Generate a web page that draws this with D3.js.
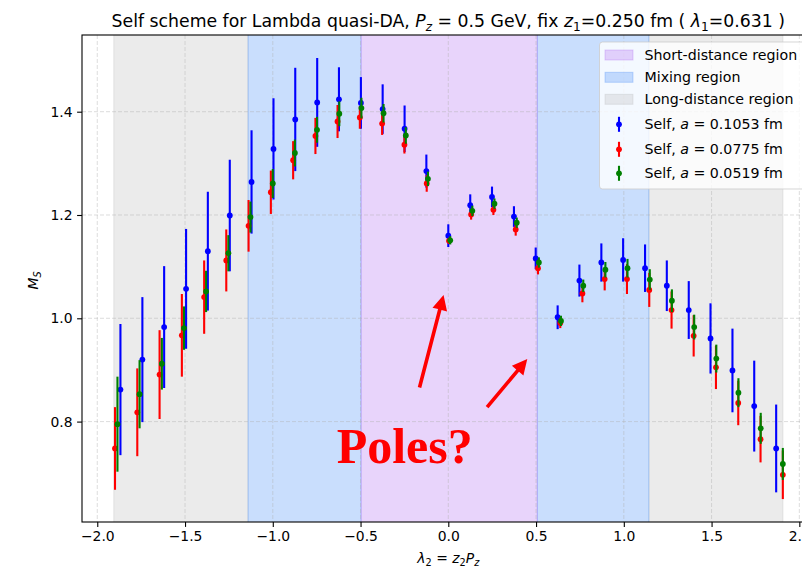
<!DOCTYPE html>
<html>
<head>
<meta charset="utf-8">
<script src="https://cdn.jsdelivr.net/npm/d3@7"></script>
<style>
  body { margin: 0; background: #fff; }
  svg { display: block; font-family: "DejaVu Sans", sans-serif; }
</style>
</head>
<body>
<svg id="chart" width="802" height="569"></svg>
<script>
// ---- data -------------------------------------------------------------
// lattice spacings of the three ensembles
const spacings = ["0.1053", "0.0775", "0.0519"];
const seriesColors = ["#0000ff", "#ff0000", "#008000"];

// a = 0.1053 fm
const lambdaA1 = [-1.868, -1.743, -1.619, -1.494, -1.370, -1.245, -1.121, -0.996, -0.872, -0.747,
                  -0.623, -0.498, -0.374, -0.249, -0.125, 0.000, 0.125, 0.249, 0.374, 0.498,
                  0.623, 0.747, 0.872, 0.996, 1.121, 1.245, 1.370, 1.494, 1.619, 1.743, 1.868];
const msA1 = [0.862, 0.920, 0.983, 1.057, 1.130, 1.199, 1.264, 1.328, 1.385, 1.418,
              1.424, 1.417, 1.405, 1.367, 1.285, 1.160, 1.219, 1.235, 1.197, 1.116,
              1.002, 1.073, 1.108, 1.113, 1.097, 1.063, 1.016, 0.961, 0.899, 0.830, 0.748];
const errA1 = [0.127, 0.121, 0.118, 0.116, 0.115, 0.108, 0.100, 0.098, 0.100, 0.086,
               0.062, 0.050, 0.048, 0.045, 0.032, 0.022, 0.021, 0.020, 0.020, 0.021,
               0.023, 0.031, 0.037, 0.042, 0.046, 0.049, 0.056, 0.068, 0.081, 0.088, 0.085];

// a = 0.0775 fm
const lambdaA2 = [-1.899, -1.772, -1.645, -1.518, -1.391, -1.265, -1.138, -1.011, -0.884, -0.757,
                  -0.631, -0.504, -0.377, -0.250, -0.123, 0.004, 0.130, 0.257, 0.384, 0.511,
                  0.638, 0.764, 0.891, 1.018, 1.145, 1.272, 1.398, 1.525, 1.652, 1.779, 1.906];
const msA2 = [0.748, 0.818, 0.891, 0.967, 1.041, 1.112, 1.179, 1.244, 1.306, 1.353,
              1.381, 1.389, 1.377, 1.336, 1.261, 1.150, 1.201, 1.210, 1.172, 1.097,
              0.991, 1.048, 1.076, 1.076, 1.055, 1.016, 0.966, 0.905, 0.836, 0.766, 0.697];
const errA2 = [0.080, 0.085, 0.086, 0.080, 0.071, 0.060, 0.050, 0.042, 0.037, 0.035,
               0.032, 0.022, 0.022, 0.017, 0.016, 0.006, 0.010, 0.010, 0.012, 0.012,
               0.010, 0.017, 0.022, 0.029, 0.033, 0.036, 0.040, 0.042, 0.043, 0.045, 0.047];

// a = 0.0519 fm
const lambdaA3 = [-1.885, -1.759, -1.632, -1.506, -1.380, -1.253, -1.127, -1.000, -0.874, -0.748,
                  -0.621, -0.495, -0.369, -0.242, -0.116, 0.011, 0.137, 0.263, 0.390, 0.516,
                  0.642, 0.769, 0.895, 1.021, 1.148, 1.274, 1.401, 1.527, 1.653, 1.780, 1.906];
const msA3 = [0.795, 0.853, 0.912, 0.981, 1.052, 1.126, 1.196, 1.261, 1.320, 1.365,
              1.396, 1.407, 1.397, 1.354, 1.270, 1.151, 1.208, 1.222, 1.185, 1.108,
              0.995, 1.063, 1.094, 1.097, 1.075, 1.034, 0.983, 0.922, 0.856, 0.787, 0.718];
const errA3 = [0.092, 0.066, 0.050, 0.042, 0.040, 0.035, 0.030, 0.028, 0.026, 0.025,
               0.024, 0.020, 0.018, 0.016, 0.014, 0.008, 0.010, 0.010, 0.010, 0.010,
               0.010, 0.012, 0.015, 0.018, 0.020, 0.022, 0.024, 0.027, 0.028, 0.030, 0.031];

// lambda ranges of the three regions
const regionNames = ["Short-distance region", "Mixing region", "Long-distance region"];
const shortSpans = [[-0.497, 0.507]];
const mixingSpans = [[-1.141, -0.497], [0.507, 1.143]];
const longSpans = [[-1.906, -1.141], [1.143, 1.907]];

const xTicks = [-2.0, -1.5, -1.0, -0.5, 0.0, 0.5, 1.0, 1.5, 2.0];
const yTicks = [0.8, 1.0, 1.2, 1.4];

// annotation: arrows (tail -> tip) and label, in data units
const arrowTails = [[-0.164, 0.866], [0.221, 0.828]];
const arrowTips = [[-0.027, 1.045], [0.450, 0.921]];
const polesLabel = "Poles?";
const polesAt = [-0.636, 0.719];

// ---- layout -----------------------------------------------------------
const W = 802, H = 569;
const plot = { left: 82, top: 35, right: 814.6, bottom: 522 };
const svg = d3.select("#chart");

const x = d3.scaleLinear().domain([-2.087, 2.087]).range([plot.left, plot.right]);
const y = d3.scaleLinear().domain([0.6056, 1.5485]).range([plot.bottom, plot.top]);

svg.append("defs").append("clipPath").attr("id", "axclip")
  .append("rect").attr("x", plot.left).attr("y", plot.top)
  .attr("width", plot.right - plot.left).attr("height", plot.bottom - plot.top);

const body = svg.append("g").attr("clip-path", "url(#axclip)");

// region shading
const regionStyles = [
  { color: "rgb(163,83,239)", spans: shortSpans },
  { color: "rgb(39,123,247)", spans: mixingSpans },
  { color: "rgb(175,175,175)", spans: longSpans }
];
// draw long first, then mixing, then short on top
[2, 1, 0].forEach(i => {
  const st = regionStyles[i];
  body.append("g").selectAll("rect").data(st.spans).join("rect")
    .attr("x", d => x(d[0])).attr("width", d => x(d[1]) - x(d[0]))
    .attr("y", plot.top - 5).attr("height", plot.bottom - plot.top + 10)
    .attr("fill", st.color).attr("fill-opacity", 0.25)
    .attr("stroke", st.color).attr("stroke-opacity", 0.25).attr("stroke-width", 1);
});

// grid
const grid = body.append("g").attr("stroke", "#b0b0b0").attr("stroke-opacity", 0.55)
  .attr("stroke-width", 0.8).attr("stroke-dasharray", "4,2");
grid.selectAll("line.gx").data(xTicks).join("line").attr("class", "gx")
  .attr("x1", d => x(d)).attr("x2", d => x(d)).attr("y1", plot.top).attr("y2", plot.bottom);
grid.selectAll("line.gy").data(yTicks).join("line").attr("class", "gy")
  .attr("y1", d => y(d)).attr("y2", d => y(d)).attr("x1", plot.left).attr("x2", plot.right);

// error-bar series
const series = [
  { lam: lambdaA1, ms: msA1, err: errA1 },
  { lam: lambdaA2, ms: msA2, err: errA2 },
  { lam: lambdaA3, ms: msA3, err: errA3 }
];
series.forEach((s, k) => {
  const pts = s.lam.map((l, i) => ({ l, v: s.ms[i], e: s.err[i] }));
  const g = body.append("g");
  g.selectAll("line").data(pts).join("line")
    .attr("x1", d => x(d.l)).attr("x2", d => x(d.l))
    .attr("y1", d => y(d.v - d.e)).attr("y2", d => y(d.v + d.e))
    .attr("stroke", seriesColors[k]).attr("stroke-width", 2.1);
  g.selectAll("circle").data(pts).join("circle")
    .attr("cx", d => x(d.l)).attr("cy", d => y(d.v)).attr("r", 2.9)
    .attr("fill", seriesColors[k]);
});

// arrows
function arrowPath(x0, y0, x1, y1) {
  const dx = x1 - x0, dy = y1 - y0, L = Math.hypot(dx, dy);
  const ux = dx / L, uy = dy / L, px = -uy, py = ux;
  const hl = 15, hw = 7.5, sw = 1.8;
  const bx = x1 - ux * hl, by = y1 - uy * hl;
  const p = [
    [x0 + px * sw, y0 + py * sw], [bx + px * sw, by + py * sw], [bx + px * hw, by + py * hw],
    [x1, y1], [bx - px * hw, by - py * hw], [bx - px * sw, by - py * sw], [x0 - px * sw, y0 - py * sw]
  ];
  return "M" + p.map(q => q.join(",")).join("L") + "Z";
}
body.append("g").selectAll("path").data(arrowTails).join("path")
  .attr("d", (d, i) => arrowPath(x(d[0]), y(d[1]), x(arrowTips[i][0]), y(arrowTips[i][1])))
  .attr("fill", "#ff0000");

body.append("text").attr("x", x(polesAt[0])).attr("y", y(polesAt[1]))
  .attr("font-family", "'Liberation Serif', 'DejaVu Serif', serif").attr("font-weight", "bold")
  .attr("font-size", 50).attr("fill", "#ff0000").text(polesLabel);

// spines
const spines = svg.append("g").attr("stroke", "#000").attr("stroke-width", 1.1).attr("fill", "none");
spines.append("rect").attr("x", plot.left).attr("y", plot.top)
  .attr("width", plot.right - plot.left).attr("height", plot.bottom - plot.top);

// axes
const fmt = d => d3.format(".1f")(d).replace("-", "\u2212");
const xAxis = svg.append("g").attr("transform", `translate(0,${plot.bottom})`)
  .call(d3.axisBottom(x).tickValues(xTicks).tickFormat(fmt).tickSize(4.9).tickPadding(4.5));
const yAxis = svg.append("g").attr("transform", `translate(${plot.left},0)`)
  .call(d3.axisLeft(y).tickValues(yTicks).tickFormat(fmt).tickSize(4.9).tickPadding(4.5));
[xAxis, yAxis].forEach(a => {
  a.select(".domain").remove();
  a.selectAll(".tick line").attr("stroke", "#000").attr("stroke-width", 1.1);
  a.selectAll(".tick text").attr("font-family", "DejaVu Sans").attr("font-size", 13.9).attr("fill", "#000");
});

// math-like text helper: parts [{t, it, sub}]
function mathText(sel, parts, size) {
  let off = 0;
  parts.forEach(p => {
    const ts = sel.append("tspan").text(p.t);
    if (p.it) ts.attr("font-style", "italic");
    const want = p.sub ? size * 0.22 : 0;
    if (want !== off) { ts.attr("dy", want - off); off = want; }
    if (p.sub) ts.attr("font-size", size * 0.7);
  });
}

// title
const title = svg.append("text").attr("x", (plot.left + plot.right) / 2).attr("y", 27)
  .attr("text-anchor", "middle").attr("font-size", 17.3).attr("fill", "#000");
mathText(title, [
  { t: "Self scheme for Lambda quasi-DA, " }, { t: "P", it: true }, { t: "z", it: true, sub: true },
  { t: " = 0.5 GeV, fix " }, { t: "z", it: true }, { t: "1", sub: true },
  { t: "=0.250 fm ( " }, { t: "\u03bb", it: true }, { t: "1", sub: true }, { t: "=0.631 )" }
], 17.3);

// x label
const xl = svg.append("text").attr("x", (plot.left + plot.right) / 2).attr("y", 563)
  .attr("text-anchor", "middle").attr("font-size", 13.9).attr("fill", "#000");
mathText(xl, [
  { t: "\u03bb", it: true }, { t: "2", sub: true }, { t: " = " }, { t: "z", it: true }, { t: "2", sub: true },
  { t: "P", it: true }, { t: "z", it: true, sub: true }
], 13.9);

// y label
const yl = svg.append("text").attr("transform", `translate(37.5,${(plot.top + plot.bottom) / 2 + 2}) rotate(-90)`)
  .attr("text-anchor", "middle").attr("font-size", 13.9).attr("fill", "#000");
mathText(yl, [{ t: "M", it: true }, { t: "S", it: true, sub: true }], 13.9);

// legend
const lg = svg.append("g");
lg.append("rect").attr("x", 599.5).attr("y", 42).attr("width", 208).attr("height", 147).attr("rx", 3)
  .attr("fill", "#fff").attr("fill-opacity", 0.8).attr("stroke", "#cccccc").attr("stroke-opacity", 0.8);
const rowY = [55, 77.3, 99.3, 124.3, 149.3, 173.3];
[0, 1, 2].forEach(i => {
  const st = regionStyles[i];
  lg.append("rect").attr("x", 605).attr("y", rowY[i] - 5).attr("width", 28).attr("height", 10)
    .attr("fill", st.color).attr("fill-opacity", 0.25)
    .attr("stroke", st.color).attr("stroke-opacity", 0.25);
  lg.append("text").attr("x", 644.5).attr("y", rowY[i] + 5).attr("font-size", 14.2).attr("fill", "#000")
    .text(regionNames[i]);
});
spacings.forEach((a, k) => {
  const yy = rowY[3 + k];
  lg.append("line").attr("x1", 619).attr("x2", 619).attr("y1", yy - 7.5).attr("y2", yy + 7.5)
    .attr("stroke", seriesColors[k]).attr("stroke-width", 2.1);
  lg.append("circle").attr("cx", 619).attr("cy", yy).attr("r", 2.9).attr("fill", seriesColors[k]);
  const t = lg.append("text").attr("x", 644.5).attr("y", yy + 5).attr("font-size", 14.2).attr("fill", "#000");
  mathText(t, [{ t: "Self, " }, { t: "a", it: true }, { t: " = " + a }, { t: " fm" }], 14.2);
});
</script>
</body>
</html>
